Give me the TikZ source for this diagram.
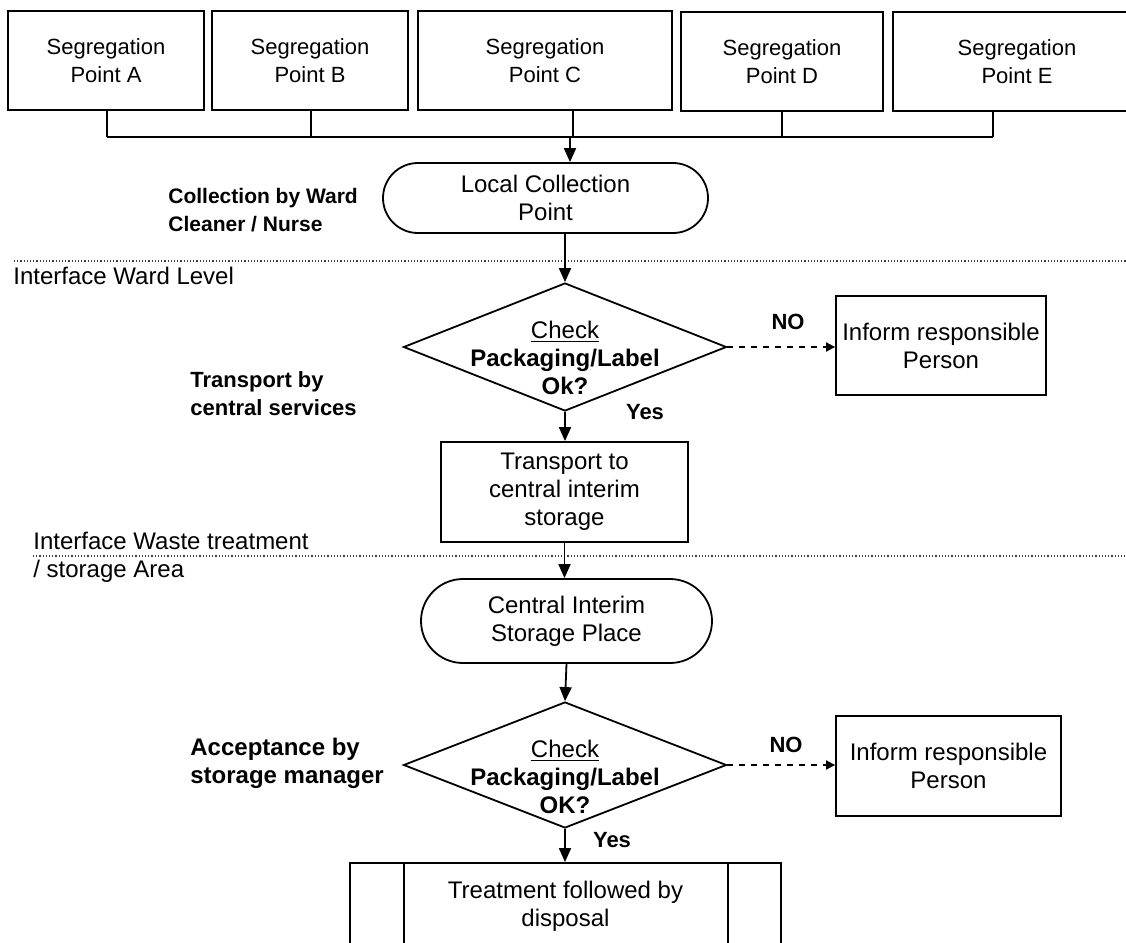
\documentclass[tikz,border=0pt]{standalone}
\usepackage{fontspec}
\setmainfont{Liberation Sans}
\usetikzlibrary{shapes.geometric, shapes.misc, arrows.meta, positioning}

\begin{document}
\begin{tikzpicture}[x=0.5pt, y=-0.5pt,
    every node/.style={font=\fontsize{12}{14}\selectfont},
    box/.style={draw, line width=0.9pt, align=center, inner sep=0pt},
    segbox/.style={box, font=\fontsize{11}{14}\selectfont, minimum height=49.5pt},
    terminal/.style={draw, rounded rectangle, line width=0.9pt, align=center, inner sep=0pt},
    decision/.style={draw, diamond, line width=0.9pt, inner sep=0pt},
    wire/.style={line width=0.9pt},
    arr/.style={-{Triangle[length=7pt, width=6pt]}, line width=0.9pt},
    noarr/.style={-{Triangle[length=4.5pt, width=4.5pt]}, dashed, line width=0.9pt},
    sep/.style={densely dotted, line width=0.6pt, black!75},
    side/.style={font=\fontsize{11}{14}\selectfont\bfseries, align=left, anchor=west, inner sep=0pt},
    answer/.style={font=\fontsize{11}{14}\selectfont\bfseries}]
    \useasboundingbox (0,0) rectangle (1126,943);
    \clip (0,0) rectangle (1126,943);

    % Segregation points
    \node[segbox, minimum width=98pt] (segA) at (106,60.5) {Segregation\\Point A};
    \node[segbox, minimum width=98pt] (segB) at (310,60.5) {Segregation\\Point B};
    \node[segbox, minimum width=127pt] (segC) at (545,60.5) {Segregation\\Point C};
    \node[segbox, minimum width=101pt] (segD) at (782,61.5) {Segregation\\Point D};
    \node[segbox, minimum width=124pt] (segE) at (1017,61.5) {Segregation\\Point E};

    % Collecting line
    \foreach \s/\x in {A/107, B/311, C/573, D/782, E/993}
        \coordinate (bus\s) at (\x,137);
    \foreach \s in {A,B,C,D,E}
        \draw[wire] (seg\s.south -| bus\s) -- (bus\s);
    \draw[wire] (busA) -- (busE);
    \coordinate (busIn) at (570,137);

    % Ward level
    \node[terminal, minimum width=162.5pt, minimum height=35pt] (local) at (545.5,198) {Local Collection\\Point};
    \draw[arr] (busIn) -- (busIn |- local.north);
    \node[side, font=\fontsize{10.5}{14}\selectfont\bfseries] (collect) at (168,210) {Collection by Ward\\Cleaner / Nurse};

    \draw[sep] (14,261) coordinate (ward) -- (ward -| 1126,0);
    \node[anchor=west, inner sep=0pt] (wardtxt) at (13,276) {Interface Ward Level};

    % First check
    \node[decision, minimum width=161.5pt, minimum height=64pt] (check1) at (565,347) {};
    \node[align=center] (check1txt) at (565,358) {\underline{Check}\\\textbf{Packaging/Label}\\\textbf{Ok?}};
    \draw[arr] (local.south -| check1.north) -- (check1.north);
    \node[box, minimum width=105pt, minimum height=49.5pt] (inform1) at (941,345.5) {Inform responsible\\Person};
    \draw[noarr] (check1.east) -- (check1.east -| inform1.west);
    \node[answer] (no1) at (788,322) {NO};
    \node[answer] (yes1) at (645,412) {Yes};
    \node[side] (transby) at (190,394) {Transport by\\central services};

    \node[box, minimum width=123.5pt, minimum height=50pt] (transport) at (564.5,492) {Transport to\\central interim\\storage};
    \draw[arr] (check1.south) -- (check1.south |- transport.north);

    % Storage area
    \draw[sep] (33,556) coordinate (waste) -- (waste -| 1126,0);
    \node[anchor=west, align=left, inner sep=0pt] (wastetxt) at (33,557.5) {Interface Waste treatment\\/ storage Area};

    \node[terminal, minimum width=145.5pt, minimum height=42pt] (store) at (566.5,621) {Central Interim\\Storage Place};
    \draw[arr] (transport.south) -- (transport.south |- store.north);

    % Second check
    \node[decision, minimum width=161.5pt, minimum height=63pt] (check2) at (565,765) {};
    \node[align=center] (check2txt) at (565,777) {\underline{Check}\\\textbf{Packaging/Label}\\\textbf{OK?}};
    \draw[arr] (store.south) -- (check2.north);
    \node[box, minimum width=112.5pt, minimum height=50pt] (inform2) at (948.5,766) {Inform responsible\\Person};
    \draw[noarr] (check2.east) -- (check2.east -| inform2.west);
    \node[answer] (no2) at (786,745) {NO};
    \node[answer] (yes2) at (612,840) {Yes};
    \node[side, font=\fontsize{12}{14}\selectfont\bfseries] (accept) at (190,763) {Acceptance by\\storage manager};

    % Treatment
    \node[box, minimum width=215.5pt, minimum height=43pt] (treat) at (565.5,906) {Treatment followed by\\disposal};
    \draw[wire] ([xshift=27.5pt]treat.north west) -- ([xshift=27.5pt]treat.south west);
    \draw[wire] ([xshift=-27pt]treat.north east) -- ([xshift=-27pt]treat.south east);
    \draw[arr] (check2.south) -- (check2.south |- treat.north);
\end{tikzpicture}
\end{document}
